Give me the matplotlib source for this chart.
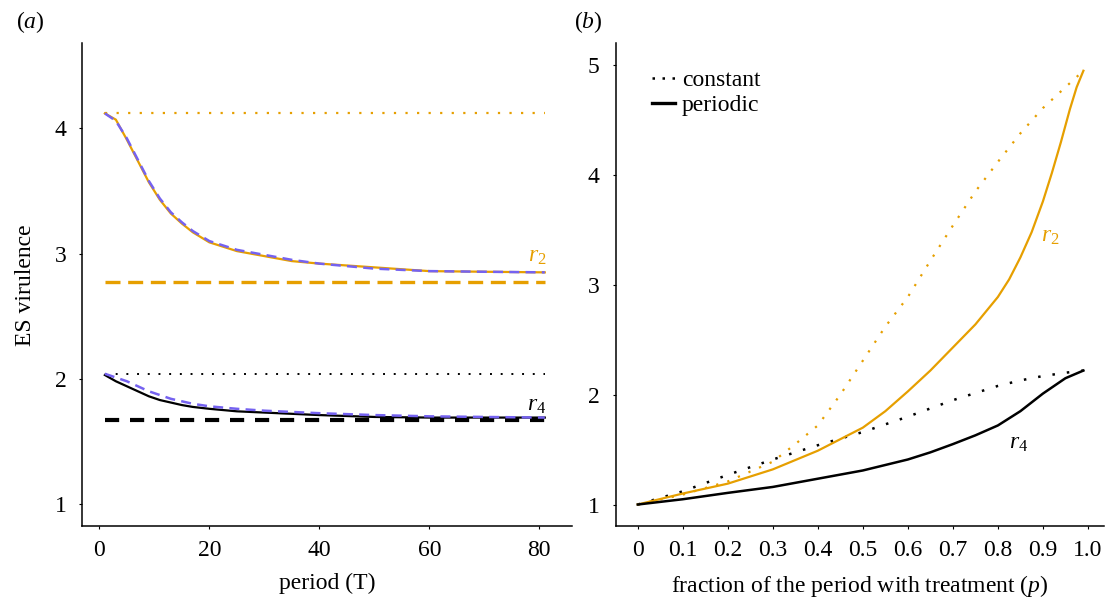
import matplotlib
matplotlib.use("Agg")
import matplotlib.pyplot as plt

plt.rcParams["font.family"] = ["Liberation Serif", "DejaVu Serif"]
plt.rcParams["mathtext.fontset"] = "custom"
plt.rcParams["mathtext.rm"] = "Liberation Serif"
plt.rcParams["mathtext.it"] = "Liberation Serif:italic"

ORANGE = "#E69F00"
PURPLE = "#7562F0"

# panel (a): ES virulence vs period T
period = [1, 3, 5, 7, 9, 11, 13, 15, 17, 20, 25, 30, 35, 40, 50, 60, 70, 81]
r2_periodic = [4.12, 4.07, 3.91, 3.74, 3.57, 3.43, 3.32, 3.24, 3.17, 3.09,
               3.02, 2.98, 2.94, 2.92, 2.89, 2.86, 2.855, 2.85]
r2_approx = [4.12, 4.06, 3.92, 3.75, 3.58, 3.44, 3.33, 3.25, 3.18, 3.10,
             3.03, 2.99, 2.95, 2.92, 2.88, 2.86, 2.855, 2.85]
r4_periodic = [2.03, 1.98, 1.94, 1.90, 1.86, 1.83, 1.81, 1.79, 1.775, 1.76,
               1.74, 1.73, 1.72, 1.71, 1.695, 1.69, 1.69, 1.69]
r4_approx = [2.04, 2.01, 1.98, 1.94, 1.90, 1.87, 1.84, 1.82, 1.80, 1.78,
             1.76, 1.745, 1.735, 1.725, 1.71, 1.70, 1.695, 1.69]
r2_const_high = 4.12
r2_const_low = 2.77
r4_const_high = 2.04
r4_const_low = 1.67

# panel (b): ES virulence vs fraction p
p_r2c = [0, 0.1, 0.2, 0.3, 0.35, 0.4, 0.45, 0.5, 0.55, 0.6, 0.65, 0.7, 0.75,
         0.8, 0.85, 0.9, 0.95, 0.99]
r2_constant = [1.0, 1.09, 1.21, 1.39, 1.55, 1.72, 2.0, 2.31, 2.62, 2.89, 3.22,
               3.54, 3.85, 4.12, 4.38, 4.61, 4.80, 4.95]
p_r2p = [0, 0.1, 0.2, 0.3, 0.4, 0.5, 0.55, 0.6, 0.65, 0.7, 0.75, 0.8, 0.825,
         0.85, 0.875, 0.9, 0.92, 0.94, 0.96, 0.975, 0.99]
r2_per = [1.0, 1.10, 1.19, 1.32, 1.49, 1.70, 1.85, 2.03, 2.22, 2.43, 2.64,
          2.89, 3.05, 3.25, 3.48, 3.76, 4.02, 4.30, 4.60, 4.80, 4.95]
p_r4c = [0, 0.1, 0.2, 0.3, 0.4, 0.5, 0.6, 0.7, 0.8, 0.85, 0.9, 0.95, 0.99]
r4_constant = [1.0, 1.12, 1.27, 1.41, 1.54, 1.66, 1.80, 1.95, 2.08, 2.13,
               2.17, 2.20, 2.22]
p_r4p = [0, 0.1, 0.2, 0.3, 0.4, 0.5, 0.6, 0.65, 0.7, 0.75, 0.8, 0.85, 0.9,
         0.95, 0.99]
r4_per = [1.0, 1.048, 1.106, 1.16, 1.235, 1.31, 1.41, 1.475, 1.55, 1.63,
          1.72, 1.85, 2.01, 2.15, 2.22]

xticks_b = [0, 0.1, 0.2, 0.3, 0.4, 0.5, 0.6, 0.7, 0.8, 0.9, 1.0]
xticklabels_b = ["0", "0.1", "0.2", "0.3", "0.4", "0.5", "0.6", "0.7", "0.8",
                 "0.9", "1.0"]

FS = 17


def style(ax):
    for s in ("top", "right"):
        ax.spines[s].set_visible(False)
    for s in ("left", "bottom"):
        ax.spines[s].set_linewidth(1.1)
    ax.tick_params(direction="out", length=2.5, width=0.8, labelsize=FS)
    ax.tick_params(axis="y", pad=9)
    ax.tick_params(axis="x", pad=7)


fig = plt.figure(figsize=(11.05, 5.98), dpi=100)
ax1 = fig.add_axes([0.0745, 0.1196, 0.4429, 0.808])
ax2 = fig.add_axes([0.5572, 0.1196, 0.4420, 0.808])

# (a)
ends = [period[0], period[-1]]
ax1.plot(ends, [r2_const_high] * 2, color=ORANGE, lw=1.6, ls=(0, (1, 4.2)))
ax1.plot(ends, [r2_const_low] * 2, color=ORANGE, lw=2.4, ls=(0, (4.5, 2.3)))
ax1.plot(ends, [r4_const_high] * 2, color="black", lw=1.4, ls=(0, (1, 4.5)))
ax1.plot(ends, [r4_const_low] * 2, color="black", lw=3.0, ls=(0, (3.4, 2.6)))
ax1.plot(period, r2_periodic, color=ORANGE, lw=1.6)
ax1.plot(period, r4_periodic, color="black", lw=1.6)
ax1.plot(period, r2_approx, color=PURPLE, lw=1.8, ls=(0, (4, 2.5)))
ax1.plot(period, r4_approx, color=PURPLE, lw=1.8, ls=(0, (4, 2.5)))
ax1.text(79.6, 2.98, "$r_2$", color=ORANGE, fontsize=FS, ha="center", va="center")
ax1.text(79.6, 1.79, "$r_4$", color="black", fontsize=FS, ha="center", va="center")
ax1.set_xlim(-3.1, 85.9)
ax1.set_ylim(0.82, 4.68)
ax1.set_xticks([0, 20, 40, 60, 80])
ax1.set_yticks([1, 2, 3, 4])
ax1.set_xlabel("period (T)", fontsize=FS, labelpad=9)
ax1.set_ylabel("ES virulence", fontsize=FS, labelpad=13)
style(ax1)

# (b)
ax2.plot(p_r2c, r2_constant, color=ORANGE, lw=1.6, ls=(0, (1, 4.2)))
ax2.plot(p_r4c, r4_constant, color="black", lw=1.8, ls=(0, (1, 4.8)))
ax2.plot(p_r2p, r2_per, color=ORANGE, lw=1.6)
ax2.plot(p_r4p, r4_per, color="black", lw=1.8)
ax2.text(0.916, 3.44, "$r_2$", color=ORANGE, fontsize=FS, ha="center", va="center")
ax2.text(0.847, 1.56, "$r_4$", color="black", fontsize=FS, ha="center", va="center")
ax2.plot([], [], color="black", lw=1.8, ls=(0, (1, 3)), label="constant")
ax2.plot([], [], color="black", lw=2.4, label="periodic")
handles, labels = ax2.get_legend_handles_labels()
ax2.legend(handles[-2:], labels[-2:], loc="upper left",
           bbox_to_anchor=(0.075, 0.945), frameon=False, fontsize=FS,
           handlelength=0.95, handletextpad=0.3, labelspacing=0.15,
           borderpad=0, borderaxespad=0)
ax2.set_xlim(-0.049, 1.036)
ax2.set_ylim(0.8, 5.2)
ax2.set_xticks(xticks_b)
ax2.set_xticklabels(xticklabels_b)
ax2.set_yticks([1, 2, 3, 4, 5])
ax2.set_xlabel("fraction of the period with treatment ($p$)", fontsize=FS,
               labelpad=9)
style(ax2)

fig.text(0.0145, 0.963, "($a$)", fontsize=FS, va="center")
fig.text(0.5195, 0.963, "($b$)", fontsize=FS, va="center")

fig.savefig("out.png", dpi=100)
